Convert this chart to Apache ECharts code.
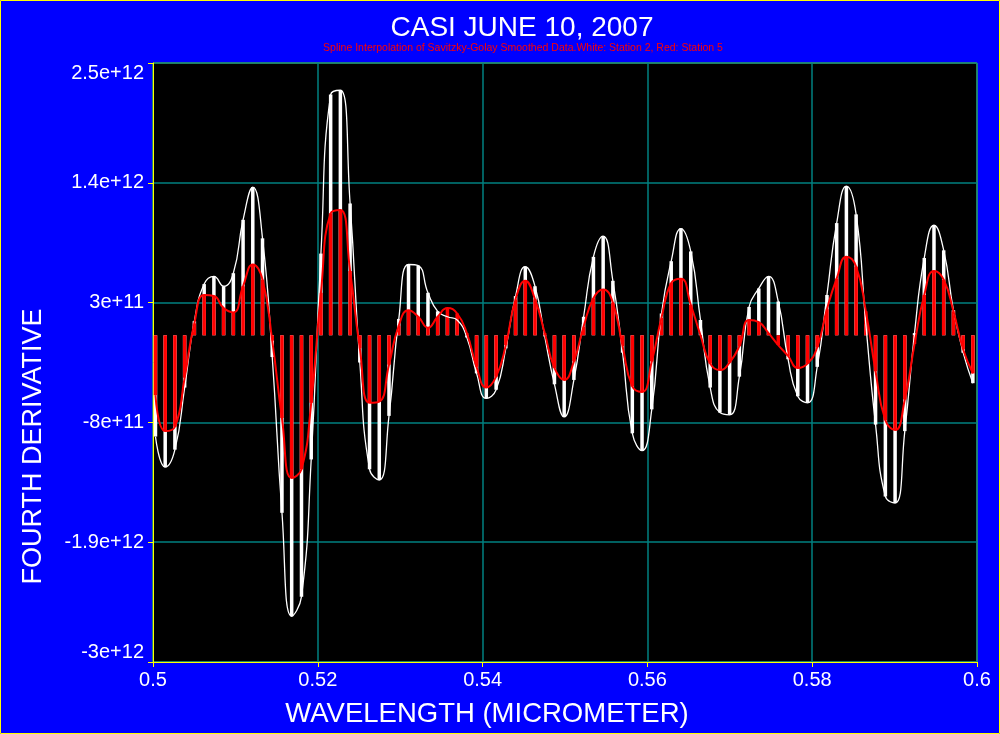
<!DOCTYPE html>
<html>
<head>
<meta charset="utf-8">
<script src="https://cdn.jsdelivr.net/npm/echarts@6/dist/echarts.min.js"></script>
<style>
html,body{margin:0;padding:0;background:#0000ff;}
#chart{width:1000px;height:734px;}
</style>
</head>
<body>
<div id="chart"></div>
<script>
// wavelength of every sample (micrometer)
var wavelengths = [
  0.50030,0.50148,0.50266,0.50384,0.50502,0.50621,0.50739,0.50857,0.50975,0.51093,
  0.51211,0.51329,0.51447,0.51565,0.51683,0.51802,0.51920,0.52038,0.52156,0.52274,
  0.52392,0.52510,0.52628,0.52746,0.52864,0.52983,0.53101,0.53219,0.53337,0.53455,
  0.53573,0.53691,0.53809,0.53927,0.54045,0.54164,0.54282,0.54400,0.54518,0.54636,
  0.54754,0.54872,0.54990,0.55108,0.55226,0.55345,0.55463,0.55581,0.55699,0.55817,
  0.55935,0.56053,0.56171,0.56289,0.56407,0.56526,0.56644,0.56762,0.56880,0.56998,
  0.57116,0.57234,0.57352,0.57470,0.57588,0.57707,0.57825,0.57943,0.58061,0.58179,
  0.58297,0.58415,0.58533,0.58651,0.58769,0.58888,0.59006,0.59124,0.59242,0.59360,
  0.59478,0.59596,0.59714,0.59832,0.59950
];

// fourth derivative, station 2 (white)
var station2 = [
  -0.93e12,-1.21e12,-1.05e12,-0.48e12,0.13e12,0.47e12,0.54e12,0.45e12,0.57e12,1.06e12,
  1.36e12,0.89e12,-0.20e12,-1.63e12,-2.58e12,-2.40e12,-1.14e12,0.75e12,2.21e12,2.25e12,
  1.21e12,-0.25e12,-1.23e12,-1.33e12,-0.74e12,0.15e12,0.65e12,0.64e12,0.39e12,0.22e12,
  0.17e12,0.14e12,-0.02e12,-0.35e12,-0.58e12,-0.50e12,-0.12e12,0.36e12,0.63e12,0.45e12,
  -0.01e12,-0.45e12,-0.75e12,-0.41e12,0.17e12,0.72e12,0.91e12,0.50e12,-0.16e12,-0.90e12,
  -1.06e12,-0.68e12,0.20e12,0.68e12,0.98e12,0.77e12,0.14e12,-0.48e12,-0.71e12,-0.73e12,
  -0.38e12,0.26e12,0.43e12,0.54e12,0.31e12,-0.22e12,-0.56e12,-0.62e12,-0.29e12,0.37e12,
  1.03e12,1.37e12,1.11e12,0.10e12,-0.82e12,-1.48e12,-1.54e12,-0.88e12,0.02e12,0.71e12,
  1.01e12,0.78e12,0.23e12,-0.16e12,-0.44e12
];

// fourth derivative, station 5 (red)
var station5 = [
  -0.55e12,-0.88e12,-0.84e12,-0.39e12,0.11e12,0.37e12,0.36e12,0.25e12,0.21e12,0.45e12,
  0.65e12,0.51e12,-0.05e12,-0.76e12,-1.31e12,-1.23e12,-0.62e12,0.39e12,1.12e12,1.15e12,
  0.59e12,-0.12e12,-0.62e12,-0.61e12,-0.27e12,0.09e12,0.23e12,0.17e12,0.07e12,0.17e12,
  0.25e12,0.20e12,0.02e12,-0.29e12,-0.48e12,-0.38e12,-0.09e12,0.33e12,0.50e12,0.33e12,
  0.02e12,-0.30e12,-0.41e12,-0.24e12,0.08e12,0.34e12,0.42e12,0.30e12,-0.10e12,-0.47e12,
  -0.52e12,-0.24e12,0.16e12,0.48e12,0.52e12,0.28e12,0.00e12,-0.26e12,-0.32e12,-0.25e12,
  -0.10e12,0.14e12,0.12e12,0.02e12,-0.09e12,-0.19e12,-0.30e12,-0.26e12,-0.11e12,0.24e12,
  0.52e12,0.72e12,0.63e12,0.22e12,-0.33e12,-0.78e12,-0.87e12,-0.59e12,-0.08e12,0.37e12,
  0.59e12,0.51e12,0.22e12,-0.13e12,-0.35e12
];

function pairs(vals) {
  var out = [];
  for (var i = 0; i < wavelengths.length; i++) {
    out.push([wavelengths[i], vals[i]]);
  }
  return out;
}

var myChart = echarts.init(document.getElementById('chart'));
var font = '"Liberation Sans", Arial, sans-serif';

var option = {
  backgroundColor: '#0000ff',
  animation: false,
  title: [
    {
      text: 'CASI JUNE 10, 2007',
      left: 517, top: 9, textAlign: 'center',
      textStyle: {color: '#ffffff', fontSize: 28, fontWeight: 'normal', fontFamily: font}
    },
    {
      text: 'Spline Interpolation of Savitzky-Golay Smoothed Data.White: Station 2, Red: Station 5',
      left: 518, top: 38, textAlign: 'center',
      textStyle: {color: '#ff0000', fontSize: 10.5, fontWeight: 'normal', fontFamily: font}
    }
  ],
  graphic: [{
    type: 'rect',
    shape: {x: 0.5, y: 0.5, width: 999, height: 733},
    style: {fill: 'none', stroke: '#ffff00', lineWidth: 1},
    silent: true
  }],
  grid: {
    left: 153, right: 23, top: 63, bottom: 72,
    show: true, backgroundColor: '#000000', borderColor: '#ffff00', borderWidth: 1
  },
  xAxis: {
    type: 'value', min: 0.5, max: 0.6, interval: 0.02,
    name: 'WAVELENGTH (MICROMETER)', nameLocation: 'middle', nameGap: 38,
    nameTextStyle: {color: '#ffffff', fontSize: 27.5, fontFamily: font, padding: [0, 156, 0, 0]},
    axisLine: {show: true, onZero: false, lineStyle: {color: '#ffff00'}},
    axisTick: {show: true, length: 5, lineStyle: {color: '#ffff00'}},
    axisLabel: {color: '#ffffff', fontSize: 20, fontFamily: font, margin: 8},
    splitLine: {show: true, lineStyle: {color: '#008080', width: 1.5}}
  },
  yAxis: {
    type: 'value', min: -3e12, max: 2.5e12, interval: 1.1e12,
    name: 'FOURTH DERIVATIVE', nameLocation: 'middle', nameGap: 106,
    nameTextStyle: {color: '#ffffff', fontSize: 27, fontFamily: font, padding: [0, 168, 0, 0]},
    axisLine: {show: true, lineStyle: {color: '#ffff00'}},
    axisTick: {show: true, length: 5, lineStyle: {color: '#ffff00'}},
    axisLabel: {
      color: '#ffffff', fontSize: 20, fontFamily: font, margin: 9,
      verticalAlignMaxLabel: 'top', verticalAlignMinLabel: 'bottom',
      formatter: function (v) { return Number(v.toPrecision(3)).toExponential(); }
    },
    splitLine: {show: true, lineStyle: {color: '#008080', width: 1.5}}
  },
  series: [
    {
      name: 'Station 2 bars', type: 'bar', data: pairs(station2),
      barWidth: 3.5, barGap: '-100%', itemStyle: {color: '#ffffff'}, z: 2
    },
    {
      name: 'Station 5 bars', type: 'bar', data: pairs(station5),
      barWidth: 3.5, barGap: '-100%', itemStyle: {color: '#ff0000'}, z: 3
    },
    {
      name: 'Station 2', type: 'line', data: pairs(station2), smooth: 0.5,
      symbol: 'none', lineStyle: {color: '#ffffff', width: 1.3}, z: 4
    },
    {
      name: 'Station 5', type: 'line', data: pairs(station5), smooth: 0.5,
      symbol: 'none', lineStyle: {color: '#ff0000', width: 2}, z: 5
    }
  ]
};
myChart.setOption(option);
</script>
</body>
</html>
